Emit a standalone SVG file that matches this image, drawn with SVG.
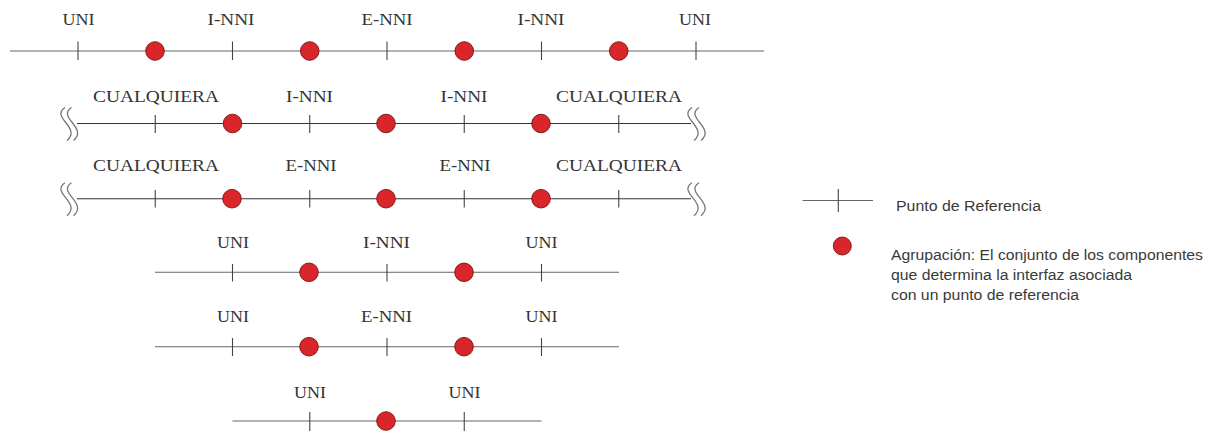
<svg xmlns="http://www.w3.org/2000/svg" width="1210" height="432" viewBox="0 0 1210 432">
<style>
.ln{stroke:#666;stroke-width:1.1;fill:none}
.ln2{stroke:#333;stroke-width:1.1;fill:none}
.tk{stroke:#444;stroke-width:1.1}
.dot{fill:#d8262a;stroke:#7a1212;stroke-width:0.9}
.sq{stroke:#777;stroke-width:1.3;fill:none}
.lb{font-family:"Liberation Serif","Times New Roman",serif;font-size:17px;fill:#333;text-anchor:middle}
.lg{font-family:"Liberation Sans",Arial,sans-serif;font-size:14px;fill:#3a3a3a}
</style>
<defs>
<path id="s" d="M0,-16 C-15,-6 17,4 2,17"/>
</defs>
<rect width="1210" height="432" fill="#fff"/>
<g id="connectors">
<line class="ln" x1="10" y1="51" x2="764" y2="51"/>
<line class="ln2" x1="77" y1="123.5" x2="691" y2="123.5"/>
<line class="ln2" x1="77" y1="198.7" x2="691" y2="198.7"/>
<line class="ln" x1="155" y1="272.3" x2="619" y2="272.3"/>
<line class="ln" x1="155" y1="346.7" x2="619" y2="346.7"/>
<line class="ln" x1="232.5" y1="421" x2="541.5" y2="421"/>
</g>
<g id="row1">
<g class="tk"><line x1="78" y1="41.5" x2="78" y2="60"/><line x1="232.5" y1="41.5" x2="232.5" y2="60"/><line x1="387" y1="41.5" x2="387" y2="60"/><line x1="541.5" y1="41.5" x2="541.5" y2="60"/><line x1="696" y1="41.5" x2="696" y2="60"/></g>
<circle class="dot" cx="155" cy="51" r="9.3"/><circle class="dot" cx="309.75" cy="51" r="9.3"/><circle class="dot" cx="464.25" cy="51" r="9.3"/><circle class="dot" cx="618.75" cy="51" r="9.3"/>
<text class="lb" x="78.5" y="25" textLength="32" lengthAdjust="spacingAndGlyphs">UNI</text>
<text class="lb" x="231" y="25" textLength="47" lengthAdjust="spacingAndGlyphs">I-NNI</text>
<text class="lb" x="387" y="25" textLength="51" lengthAdjust="spacingAndGlyphs">E-NNI</text>
<text class="lb" x="541" y="25" textLength="47" lengthAdjust="spacingAndGlyphs">I-NNI</text>
<text class="lb" x="695" y="25" textLength="32" lengthAdjust="spacingAndGlyphs">UNI</text>
</g>
<g id="row2">
<use href="#s" class="sq" x="65" y="123.5"/><use href="#s" class="sq" x="71.5" y="123.5"/>
<use href="#s" class="sq" x="692" y="123.5"/><use href="#s" class="sq" x="699" y="123.5"/>
<g class="tk"><line x1="155.25" y1="115" x2="155.25" y2="133"/><line x1="309.75" y1="115" x2="309.75" y2="133"/><line x1="464.25" y1="115" x2="464.25" y2="133"/><line x1="618.75" y1="115" x2="618.75" y2="133"/></g>
<circle class="dot" cx="232.5" cy="123.5" r="9.3"/><circle class="dot" cx="386" cy="123.5" r="9.3"/><circle class="dot" cx="541" cy="123.5" r="9.3"/>
<text class="lb" x="156" y="102" textLength="126" lengthAdjust="spacingAndGlyphs">CUALQUIERA</text>
<text class="lb" x="309.5" y="102" textLength="47" lengthAdjust="spacingAndGlyphs">I-NNI</text>
<text class="lb" x="464" y="102" textLength="47" lengthAdjust="spacingAndGlyphs">I-NNI</text>
<text class="lb" x="619" y="102" textLength="126" lengthAdjust="spacingAndGlyphs">CUALQUIERA</text>
</g>
<g id="row3">
<use href="#s" class="sq" x="65" y="198.7"/><use href="#s" class="sq" x="71.5" y="198.7"/>
<use href="#s" class="sq" x="692" y="198.7"/><use href="#s" class="sq" x="699" y="198.7"/>
<g class="tk"><line x1="155.25" y1="190" x2="155.25" y2="207.5"/><line x1="309.75" y1="190" x2="309.75" y2="207.5"/><line x1="464.25" y1="190" x2="464.25" y2="207.5"/><line x1="618.75" y1="190" x2="618.75" y2="207.5"/></g>
<circle class="dot" cx="232" cy="198.7" r="9.3"/><circle class="dot" cx="386" cy="198.7" r="9.3"/><circle class="dot" cx="541" cy="198.7" r="9.3"/>
<text class="lb" x="156" y="170.5" textLength="126" lengthAdjust="spacingAndGlyphs">CUALQUIERA</text>
<text class="lb" x="311" y="170.5" textLength="51" lengthAdjust="spacingAndGlyphs">E-NNI</text>
<text class="lb" x="465" y="170.5" textLength="51" lengthAdjust="spacingAndGlyphs">E-NNI</text>
<text class="lb" x="619" y="170.5" textLength="126" lengthAdjust="spacingAndGlyphs">CUALQUIERA</text>
</g>
<g id="row4">
<g class="tk"><line x1="232.5" y1="264" x2="232.5" y2="281.5"/><line x1="387" y1="264" x2="387" y2="281.5"/><line x1="541.5" y1="264" x2="541.5" y2="281.5"/></g>
<circle class="dot" cx="309" cy="272.3" r="9.3"/><circle class="dot" cx="464" cy="272.3" r="9.3"/>
<text class="lb" x="233" y="248.3" textLength="32" lengthAdjust="spacingAndGlyphs">UNI</text>
<text class="lb" x="386.5" y="248.3" textLength="47" lengthAdjust="spacingAndGlyphs">I-NNI</text>
<text class="lb" x="541.5" y="248.3" textLength="32" lengthAdjust="spacingAndGlyphs">UNI</text>
</g>
<g id="row5">
<g class="tk"><line x1="232.5" y1="338" x2="232.5" y2="356"/><line x1="387" y1="338" x2="387" y2="356"/><line x1="541.5" y1="338" x2="541.5" y2="356"/></g>
<circle class="dot" cx="309" cy="346.7" r="9.3"/><circle class="dot" cx="464" cy="346.7" r="9.3"/>
<text class="lb" x="233" y="321.7" textLength="32" lengthAdjust="spacingAndGlyphs">UNI</text>
<text class="lb" x="386.5" y="321.7" textLength="51" lengthAdjust="spacingAndGlyphs">E-NNI</text>
<text class="lb" x="541.5" y="321.7" textLength="32" lengthAdjust="spacingAndGlyphs">UNI</text>
</g>
<g id="row6">
<g class="tk"><line x1="309.75" y1="412" x2="309.75" y2="431"/><line x1="464.25" y1="412" x2="464.25" y2="431"/></g>
<circle class="dot" cx="386" cy="421" r="9.3"/>
<text class="lb" x="310" y="397.7" textLength="32" lengthAdjust="spacingAndGlyphs">UNI</text>
<text class="lb" x="464.5" y="397.7" textLength="32" lengthAdjust="spacingAndGlyphs">UNI</text>
</g>
<g id="legend-ref">
<line class="ln" x1="802.5" y1="200.5" x2="873" y2="200.5"/>
<line class="tk" x1="838.3" y1="189" x2="838.3" y2="212"/>
<text class="lg" x="896" y="211" textLength="145" lengthAdjust="spacingAndGlyphs">Punto de Referencia</text>
</g>
<g id="legend-group">
<circle class="dot" cx="842.3" cy="246" r="9"/>
<text class="lg" x="891" y="260" textLength="312" lengthAdjust="spacingAndGlyphs">Agrupación: El conjunto de los componentes</text>
<text class="lg" x="891" y="280" textLength="241" lengthAdjust="spacingAndGlyphs">que determina la interfaz asociada</text>
<text class="lg" x="891" y="300" textLength="188" lengthAdjust="spacingAndGlyphs">con un punto de referencia</text>
</g>
</svg>
